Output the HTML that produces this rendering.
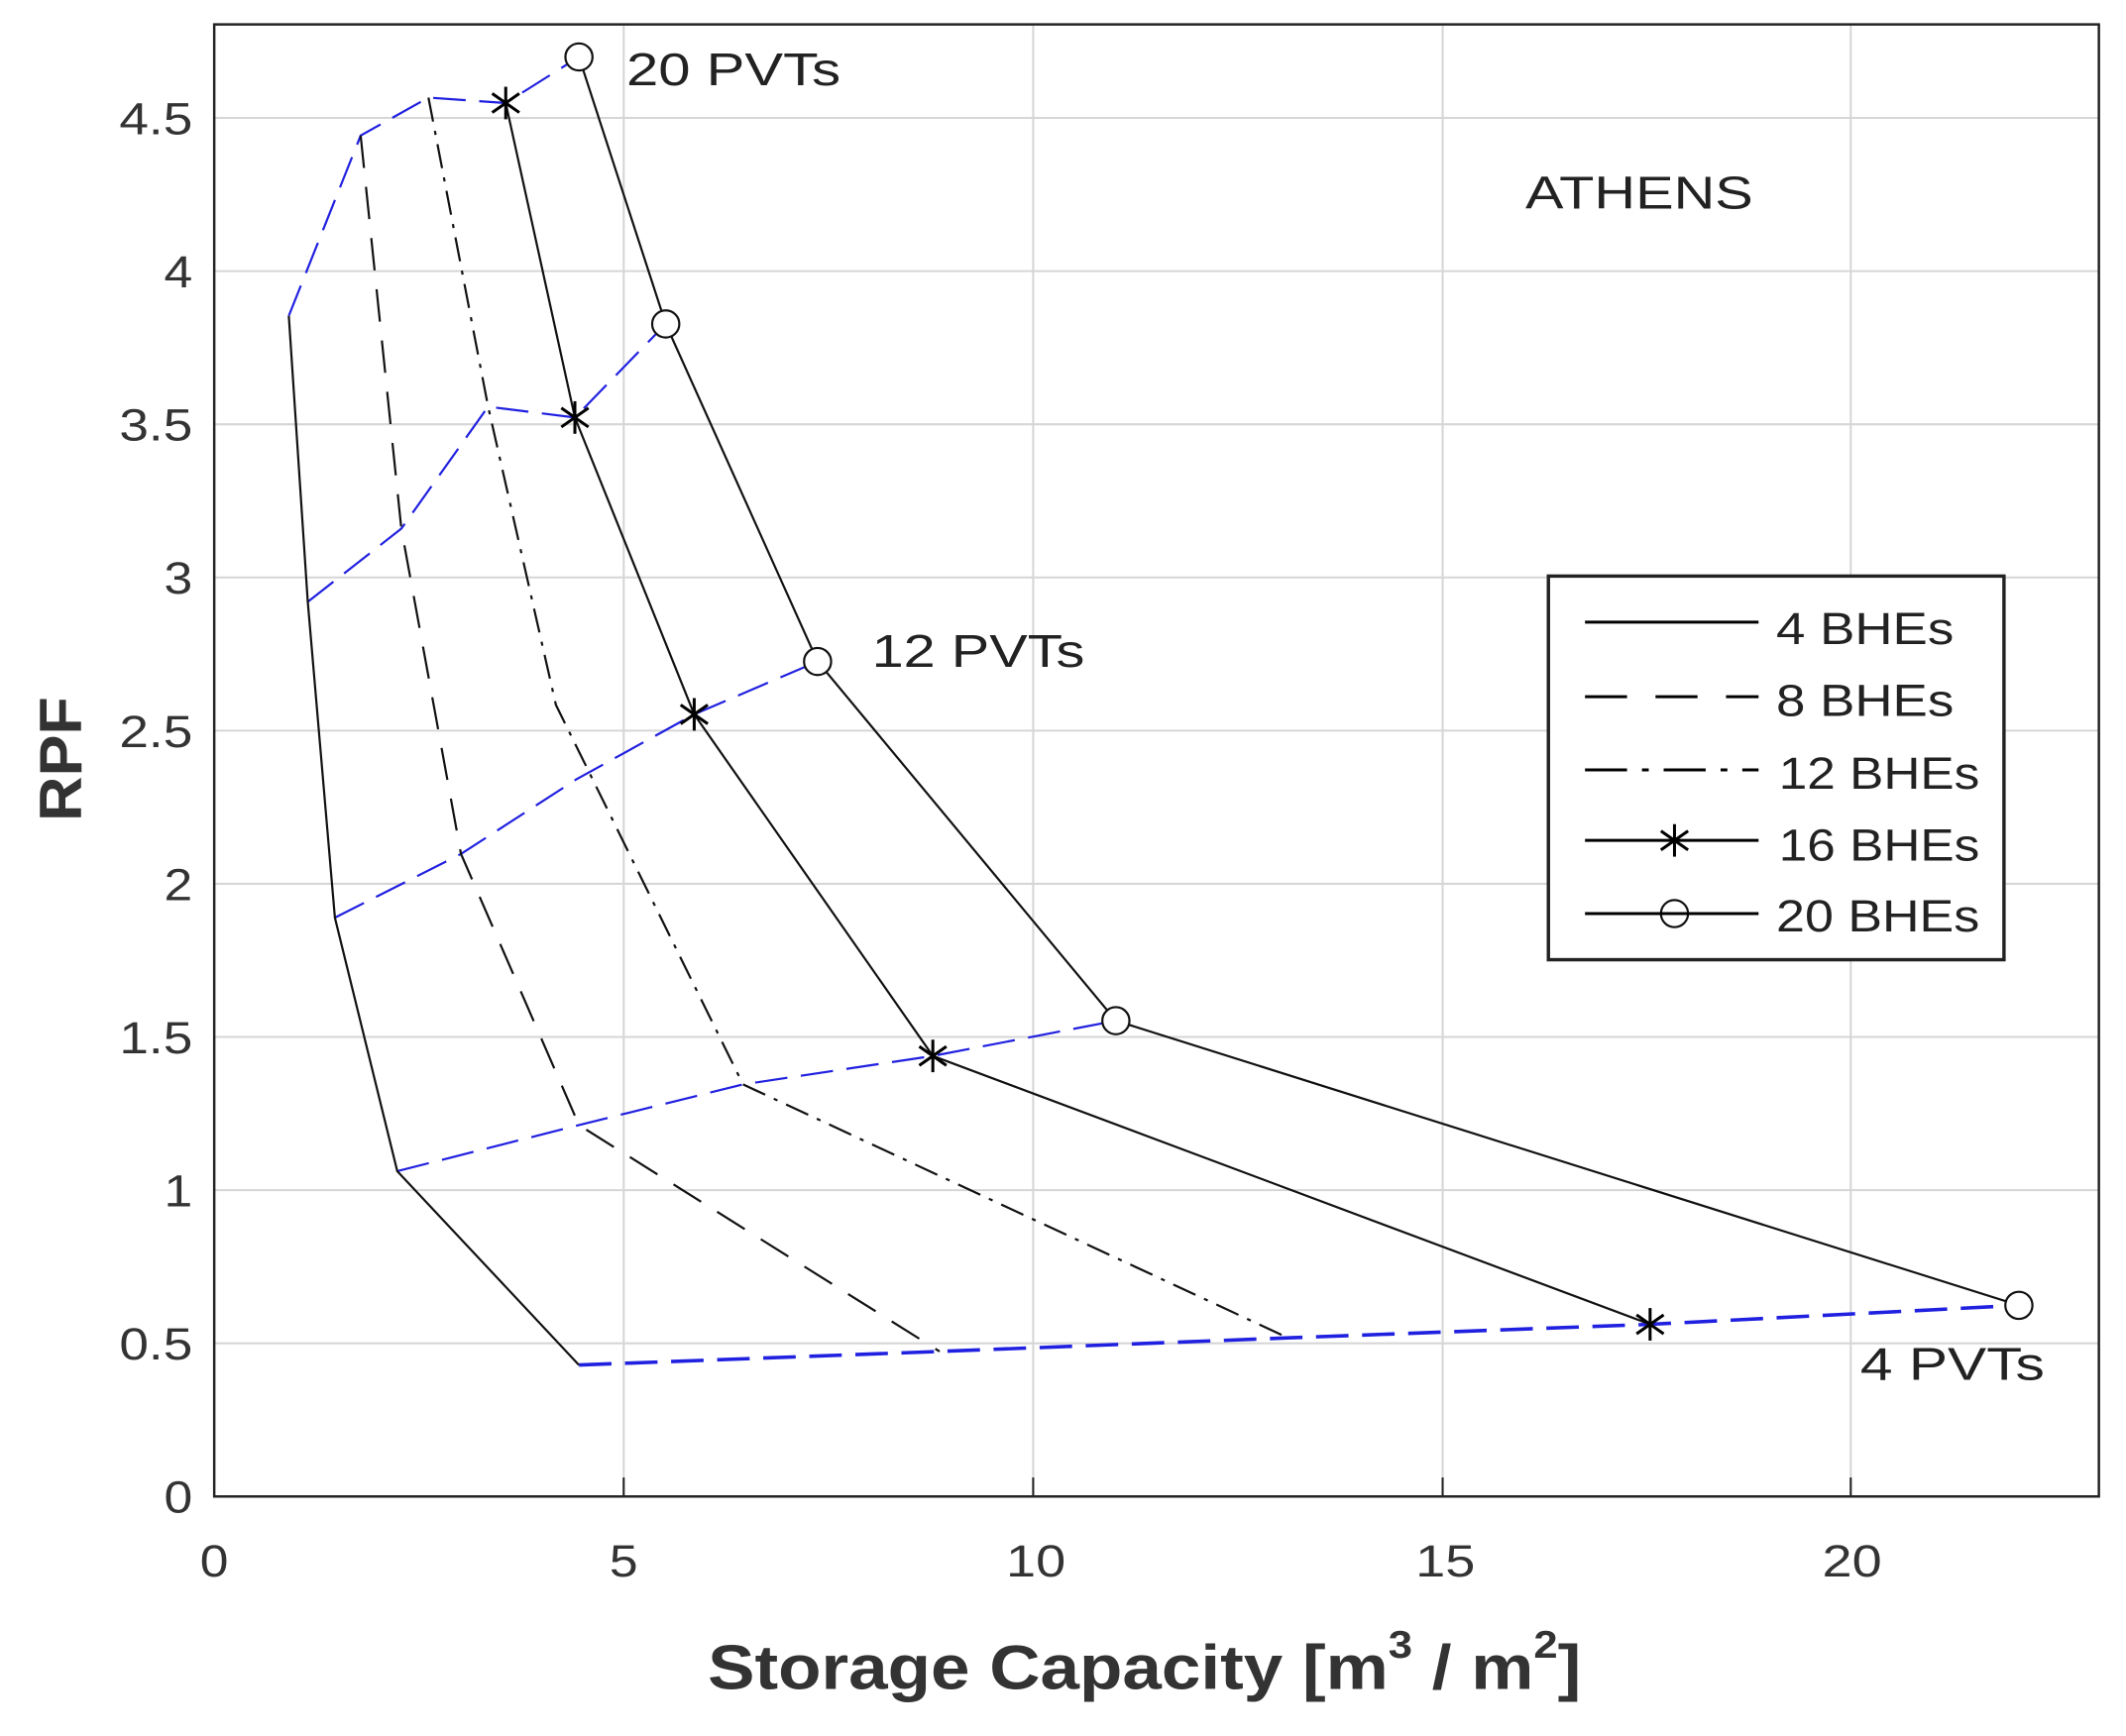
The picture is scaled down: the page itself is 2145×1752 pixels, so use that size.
<!DOCTYPE html>
<html><head><meta charset="utf-8"><style>
html,body{margin:0;padding:0;background:#fff;}
svg{display:block;}
text{font-family:"Liberation Sans",Arial,sans-serif;}
</style></head><body>
<svg width="2145" height="1752" viewBox="0 0 1568 1280.7" xmlns="http://www.w3.org/2000/svg">
<rect x="0" y="0" width="1568" height="1281" fill="#fff"/>
<g stroke="#d6d6d6" stroke-width="1.5">
<line x1="460" y1="18" x2="460" y2="1104"/>
<line x1="762" y1="18" x2="762" y2="1104"/>
<line x1="1064" y1="18" x2="1064" y2="1104"/>
<line x1="1365" y1="18" x2="1365" y2="1104"/>
<line x1="158" y1="991" x2="1548" y2="991"/>
<line x1="158" y1="878" x2="1548" y2="878"/>
<line x1="158" y1="765" x2="1548" y2="765"/>
<line x1="158" y1="652" x2="1548" y2="652"/>
<line x1="158" y1="539" x2="1548" y2="539"/>
<line x1="158" y1="426" x2="1548" y2="426"/>
<line x1="158" y1="313" x2="1548" y2="313"/>
<line x1="158" y1="200" x2="1548" y2="200"/>
<line x1="158" y1="87" x2="1548" y2="87"/>
</g>
<g fill="none" stroke="#2020e0" stroke-width="1.6" stroke-dasharray="24,10">
<polyline points="213,233 266,100 316,72 373,76 427,42"/>
<polyline points="227,444 296,390 360,300 424,308 491,239"/>
<polyline points="247,677 340,630 425,575 512,527 603,488"/>
<polyline points="293,864 427,830 548,800 688,779 823,753"/>
<polyline points="427,1007 693,997 950,987 1217,977 1489,963" stroke-width="2.6"/>
</g>
<g fill="none" stroke="#111" stroke-width="1.6">
<polyline points="213,233 227,444 247,677 293,864 427,1007"/>
<polyline points="266,100 296,390 340,630 427,830 693,997" stroke-dasharray="24,14"/>
<polyline points="316,72 360,300 410,520 548,800 950,987" stroke-dasharray="18,7,3,7"/>
<polyline points="373,76 424,308 512,527 688,779 1217,977"/>
<polyline points="427,42 491,239 603,488 823,753 1489,963"/>
</g>
<g fill="#fff" stroke="#111" stroke-width="1.6">
<circle cx="427" cy="42" r="10"/><circle cx="491" cy="239" r="10"/><circle cx="603" cy="488" r="10"/><circle cx="823" cy="753" r="10"/><circle cx="1489" cy="963" r="10"/>
</g>
<defs><g id="st" stroke="#000" stroke-width="2.2"><line x1="0" y1="-12" x2="0" y2="12"/><line x1="-10" y1="-7" x2="10" y2="7"/><line x1="-10" y1="7" x2="10" y2="-7"/></g></defs>
<use href="#st" x="373" y="76"/><use href="#st" x="424" y="308"/><use href="#st" x="512" y="527"/><use href="#st" x="688" y="779"/><use href="#st" x="1217" y="977"/>
<rect x="158" y="18" width="1390" height="1086" fill="none" stroke="#222" stroke-width="1.8"/>
<g stroke="#222" stroke-width="1.5">
<line x1="460" y1="1104" x2="460" y2="1090"/><line x1="762" y1="1104" x2="762" y2="1090"/><line x1="1064" y1="1104" x2="1064" y2="1090"/><line x1="1365" y1="1104" x2="1365" y2="1090"/>
</g>
<g font-size="33" fill="#333" text-anchor="end">
<text x="142" y="1116" textLength="21" lengthAdjust="spacingAndGlyphs">0</text>
<text x="142" y="1003" textLength="54" lengthAdjust="spacingAndGlyphs">0.5</text>
<text x="142" y="890" textLength="21" lengthAdjust="spacingAndGlyphs">1</text>
<text x="142" y="777" textLength="54" lengthAdjust="spacingAndGlyphs">1.5</text>
<text x="142" y="664" textLength="21" lengthAdjust="spacingAndGlyphs">2</text>
<text x="142" y="551" textLength="54" lengthAdjust="spacingAndGlyphs">2.5</text>
<text x="142" y="438" textLength="21" lengthAdjust="spacingAndGlyphs">3</text>
<text x="142" y="325" textLength="54" lengthAdjust="spacingAndGlyphs">3.5</text>
<text x="142" y="212" textLength="21" lengthAdjust="spacingAndGlyphs">4</text>
<text x="142" y="99" textLength="54" lengthAdjust="spacingAndGlyphs">4.5</text>
</g>
<g font-size="33" fill="#333" text-anchor="middle">
<text x="158" y="1163" textLength="21" lengthAdjust="spacingAndGlyphs">0</text>
<text x="460" y="1163" textLength="21" lengthAdjust="spacingAndGlyphs">5</text>
<text x="764" y="1163" textLength="44" lengthAdjust="spacingAndGlyphs">10</text>
<text x="1066" y="1163" textLength="44" lengthAdjust="spacingAndGlyphs">15</text>
<text x="1366" y="1163" textLength="44" lengthAdjust="spacingAndGlyphs">20</text>
</g>
<text transform="translate(522,1246) scale(1.18,1.05)" x="0" y="0" font-size="44" font-weight="bold" fill="#333">Storage Capacity [m<tspan font-size="27" dy="-22">3</tspan><tspan dy="22"> / m</tspan><tspan font-size="27" dy="-22">2</tspan><tspan dy="22">]</tspan></text>
<text transform="translate(60,560) rotate(-90)" font-size="44" font-weight="bold" fill="#333" text-anchor="middle" textLength="92" lengthAdjust="spacingAndGlyphs">RPF</text>
<g font-size="34" fill="#222">
<text x="1125" y="154" textLength="168" lengthAdjust="spacingAndGlyphs">ATHENS</text>
<text x="462" y="63" textLength="158" lengthAdjust="spacingAndGlyphs">20 PVTs</text>
<text x="643" y="492" textLength="157" lengthAdjust="spacingAndGlyphs">12 PVTs</text>
<text x="1372" y="1018" textLength="136" lengthAdjust="spacingAndGlyphs">4 PVTs</text>
</g>
<rect x="1142" y="425" width="336" height="283" fill="#fff" stroke="#222" stroke-width="2.5"/>
<g stroke="#000" stroke-width="2.2">
<line x1="1169" y1="459" x2="1297" y2="459"/>
<line x1="1169" y1="514" x2="1297" y2="514" stroke-dasharray="31,21"/>
<line x1="1169" y1="568" x2="1297" y2="568" stroke-dasharray="31,11,5,11"/>
<line x1="1169" y1="620" x2="1297" y2="620"/>
</g>
<use href="#st" x="1235" y="620"/>
<circle cx="1235" cy="674" r="10" fill="#fff" stroke="#111" stroke-width="1.6"/>
<line x1="1169" y1="674" x2="1297" y2="674" stroke="#000" stroke-width="2.2"/>
<g font-size="33" fill="#222">
<text x="1310" y="475" textLength="131" lengthAdjust="spacingAndGlyphs">4 BHEs</text>
<text x="1310" y="528" textLength="131" lengthAdjust="spacingAndGlyphs">8 BHEs</text>
<text x="1312" y="582" textLength="148" lengthAdjust="spacingAndGlyphs">12 BHEs</text>
<text x="1312" y="635" textLength="148" lengthAdjust="spacingAndGlyphs">16 BHEs</text>
<text x="1310" y="687" textLength="150" lengthAdjust="spacingAndGlyphs">20 BHEs</text>
</g>
</svg>
</body></html>
